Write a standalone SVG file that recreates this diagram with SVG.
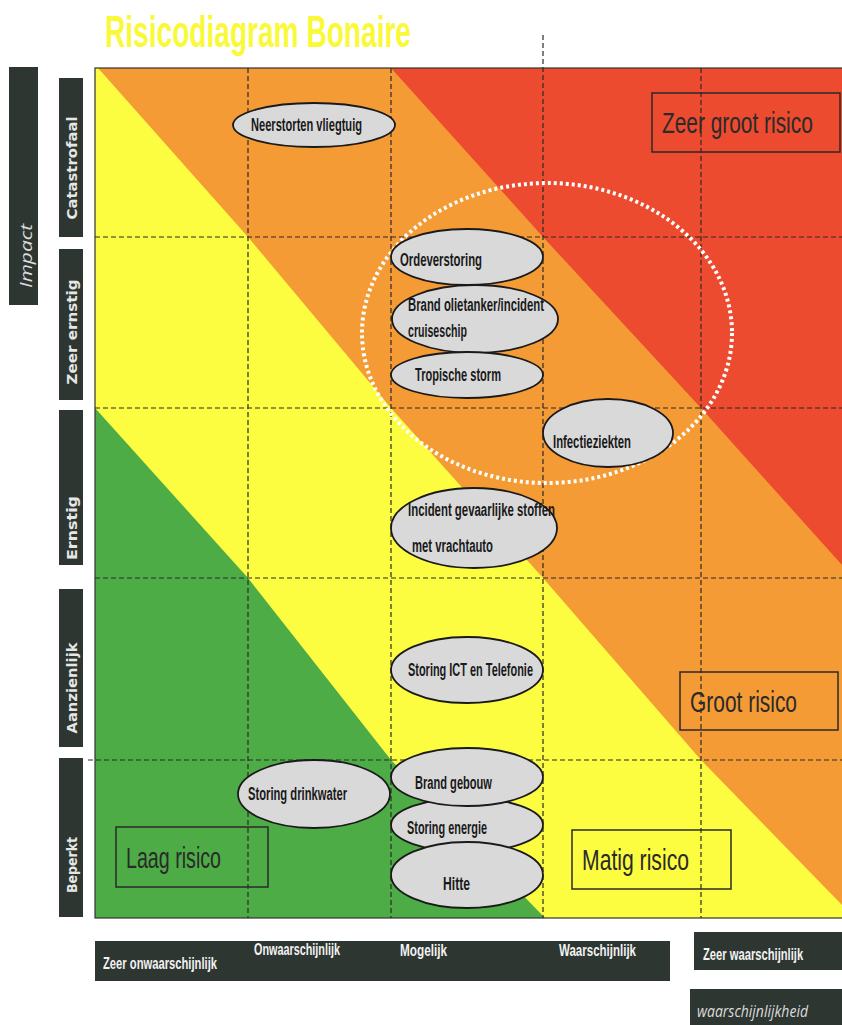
<svg xmlns="http://www.w3.org/2000/svg" width="842" height="1025" viewBox="0 0 842 1025">
<defs>
<style>
.bar{fill:#2e3631}
.cat{font-family:"DejaVu Sans",sans-serif;font-weight:bold;font-size:13.5px;fill:#e6e6e6;text-anchor:middle}
.ax{font-family:"Liberation Sans",Arial,sans-serif;font-weight:bold;font-size:16px;fill:#f2f2f2}
.ital{font-family:"Open Sans","Liberation Sans",sans-serif;font-style:italic;font-size:16px;fill:#dcdcdc}
.grid{stroke:#2a2a2a;stroke-width:1.2;stroke-dasharray:5,3;fill:none}
.ell{fill:#d9d9d9;stroke:#1a1a1a;stroke-width:1.8}
.et{font-family:"Liberation Sans",Arial,sans-serif;font-weight:bold;font-size:18px;fill:#1a1a1a}
.lbox{fill:none;stroke:#2a2a2a;stroke-width:1.5}
.lt{font-family:"Liberation Sans",Arial,sans-serif;font-size:29px;fill:#2a2a2a}
</style>
</defs>
<rect width="842" height="1025" fill="#ffffff"/>
<text x="105" y="47" font-family="Liberation Sans,Arial,sans-serif" font-weight="bold" font-size="44" fill="#f9f93a" textLength="306" lengthAdjust="spacingAndGlyphs">Risicodiagram Bonaire</text>

<g id="plot">
<rect x="95" y="68" width="747" height="850" fill="#ec4b30"/>
<polygon points="95,68 391,68 543,237 701,408 842,565 842,918 95,918" fill="#f59b35"/>
<polygon points="98,68 248,237 391,408 543,578 701,760 842,905 842,918 95,918 95,68" fill="#fcfc40"/>
<polygon points="95,408 248,578 391,760 545,918 95,918" fill="#4dac46"/>
<rect x="95" y="68" width="749" height="850" fill="none" stroke="#333" stroke-width="1.2"/>
</g>

<g id="connectors">
<line class="grid" x1="248" y1="68" x2="248" y2="918"/>
<line class="grid" x1="391" y1="68" x2="391" y2="918"/>
<line class="grid" x1="543" y1="35" x2="543" y2="918"/>
<line class="grid" x1="701" y1="68" x2="701" y2="918"/>
<line class="grid" x1="95" y1="237" x2="842" y2="237"/>
<line class="grid" x1="95" y1="408" x2="842" y2="408"/>
<line class="grid" x1="95" y1="578" x2="842" y2="578"/>
<line class="grid" x1="88" y1="760" x2="842" y2="760"/>
<ellipse cx="547" cy="333" rx="185" ry="150" fill="none" stroke="#ffffff" stroke-width="4" stroke-dasharray="3,3"/>
</g>

<g id="axis-impact">
<rect class="bar" x="9" y="67" width="29" height="238"/>
<text class="ital" transform="translate(32,256) rotate(-90)" text-anchor="middle" font-size="19" textLength="64" lengthAdjust="spacingAndGlyphs">Impact</text>
</g>
<g id="cat-catastrofaal"><rect class="bar" x="59" y="78" width="24" height="159"/><text class="cat" transform="translate(77,168) rotate(-90)" textLength="103" lengthAdjust="spacingAndGlyphs">Catastrofaal</text></g>
<g id="cat-zeerernstig"><rect class="bar" x="59" y="249" width="24" height="151"/><text class="cat" transform="translate(77,332) rotate(-90)" textLength="105" lengthAdjust="spacingAndGlyphs">Zeer ernstig</text></g>
<g id="cat-ernstig"><rect class="bar" x="59" y="410" width="24" height="155"/><text class="cat" transform="translate(77,528) rotate(-90)" textLength="64" lengthAdjust="spacingAndGlyphs">Ernstig</text></g>
<g id="cat-aanzienlijk"><rect class="bar" x="59" y="589" width="24" height="158"/><text class="cat" transform="translate(77,688) rotate(-90)" textLength="91" lengthAdjust="spacingAndGlyphs">Aanzienlijk</text></g>
<g id="cat-beperkt"><rect class="bar" x="59" y="758" width="24" height="159"/><text class="cat" transform="translate(77,865) rotate(-90)" textLength="56" lengthAdjust="spacingAndGlyphs">Beperkt</text></g>

<g id="axis-likelihood">
<rect class="bar" x="95" y="941" width="575" height="40"/>
<text class="ax" x="103" y="969" textLength="114" lengthAdjust="spacingAndGlyphs">Zeer onwaarschijnlijk</text>
<text class="ax" x="254" y="955" textLength="86" lengthAdjust="spacingAndGlyphs">Onwaarschijnlijk</text>
<text class="ax" x="400" y="956" textLength="47" lengthAdjust="spacingAndGlyphs">Mogelijk</text>
<text class="ax" x="559" y="956" textLength="77" lengthAdjust="spacingAndGlyphs">Waarschijnlijk</text>
</g>
<g id="axis-zeerwaarschijnlijk">
<rect class="bar" x="694" y="932" width="148" height="38"/>
<text class="ax" transform="translate(703,960) scale(0.7,1)" x="0" y="0">Zeer waarschijnlijk</text>
</g>
<g id="axis-waarschijnlijkheid">
<rect class="bar" x="690" y="989" width="152" height="36"/>
<text class="ital" x="697" y="1017" font-size="17" textLength="111" lengthAdjust="spacingAndGlyphs">waarschijnlijkheid</text>
</g>

<g id="legend-zeergroot"><rect class="lbox" x="652" y="93" width="188" height="59"/><text class="lt" transform="translate(662,133) scale(0.72,1)" x="0" y="0">Zeer groot risico</text></g>
<g id="legend-groot"><rect class="lbox" x="680" y="672" width="158" height="58"/><text class="lt" x="690" y="712" textLength="107" lengthAdjust="spacingAndGlyphs">Groot risico</text></g>
<g id="legend-matig"><rect class="lbox" x="572" y="830" width="159" height="59"/><text class="lt" x="582" y="870" textLength="107" lengthAdjust="spacingAndGlyphs">Matig risico</text></g>
<g id="legend-laag"><rect class="lbox" x="116" y="827" width="152" height="60"/><text class="lt" x="126" y="868" textLength="95" lengthAdjust="spacingAndGlyphs">Laag risico</text></g>

<g id="n-neerstorten"><ellipse class="ell" cx="314" cy="125" rx="81" ry="22"/><text class="et" x="251" y="131" textLength="111" lengthAdjust="spacingAndGlyphs">Neerstorten vliegtuig</text></g>
<g id="n-ordeverstoring"><ellipse class="ell" cx="467" cy="257" rx="76" ry="28"/><text class="et" x="400" y="266" textLength="82" lengthAdjust="spacingAndGlyphs">Ordeverstoring</text></g>
<g id="n-brandolietanker"><ellipse class="ell" cx="475" cy="319" rx="83" ry="34"/><text class="et" x="408" y="311" textLength="136" lengthAdjust="spacingAndGlyphs">Brand olietanker/incident</text><text class="et" x="408" y="337" textLength="59" lengthAdjust="spacingAndGlyphs">cruiseschip</text></g>
<g id="n-tropischestorm"><ellipse class="ell" cx="467" cy="375" rx="76" ry="23"/><text class="et" x="415" y="381" textLength="86" lengthAdjust="spacingAndGlyphs">Tropische storm</text></g>
<g id="n-infectieziekten"><ellipse class="ell" cx="608" cy="433" rx="65" ry="34"/><text class="et" x="553" y="448" textLength="78" lengthAdjust="spacingAndGlyphs">Infectieziekten</text></g>
<g id="n-incidentgevaarlijk"><ellipse class="ell" cx="474" cy="528" rx="83" ry="40"/><text class="et" x="408" y="516" textLength="147" lengthAdjust="spacingAndGlyphs">Incident gevaarlijke stoffen</text><text class="et" x="412" y="552" textLength="81" lengthAdjust="spacingAndGlyphs">met vrachtauto</text></g>
<g id="n-storingict"><ellipse class="ell" cx="467" cy="670" rx="76" ry="33"/><text class="et" x="408" y="676" textLength="125" lengthAdjust="spacingAndGlyphs">Storing ICT en Telefonie</text></g>
<g id="n-storingdrinkwater"><ellipse class="ell" cx="314" cy="794" rx="76" ry="34"/><text class="et" x="248" y="800" textLength="99" lengthAdjust="spacingAndGlyphs">Storing drinkwater</text></g>
<g id="n-storingenergie"><ellipse class="ell" cx="467" cy="825" rx="76" ry="27"/><text class="et" x="407" y="834" textLength="80" lengthAdjust="spacingAndGlyphs">Storing energie</text></g>
<g id="n-hitte"><ellipse class="ell" cx="467" cy="875" rx="76" ry="33"/><text class="et" x="443" y="890" textLength="27" lengthAdjust="spacingAndGlyphs">Hitte</text></g>
<g id="n-brandgebouw"><ellipse class="ell" cx="467" cy="777" rx="76" ry="29"/><text class="et" x="415" y="789" textLength="77" lengthAdjust="spacingAndGlyphs">Brand gebouw</text></g>
</svg>
